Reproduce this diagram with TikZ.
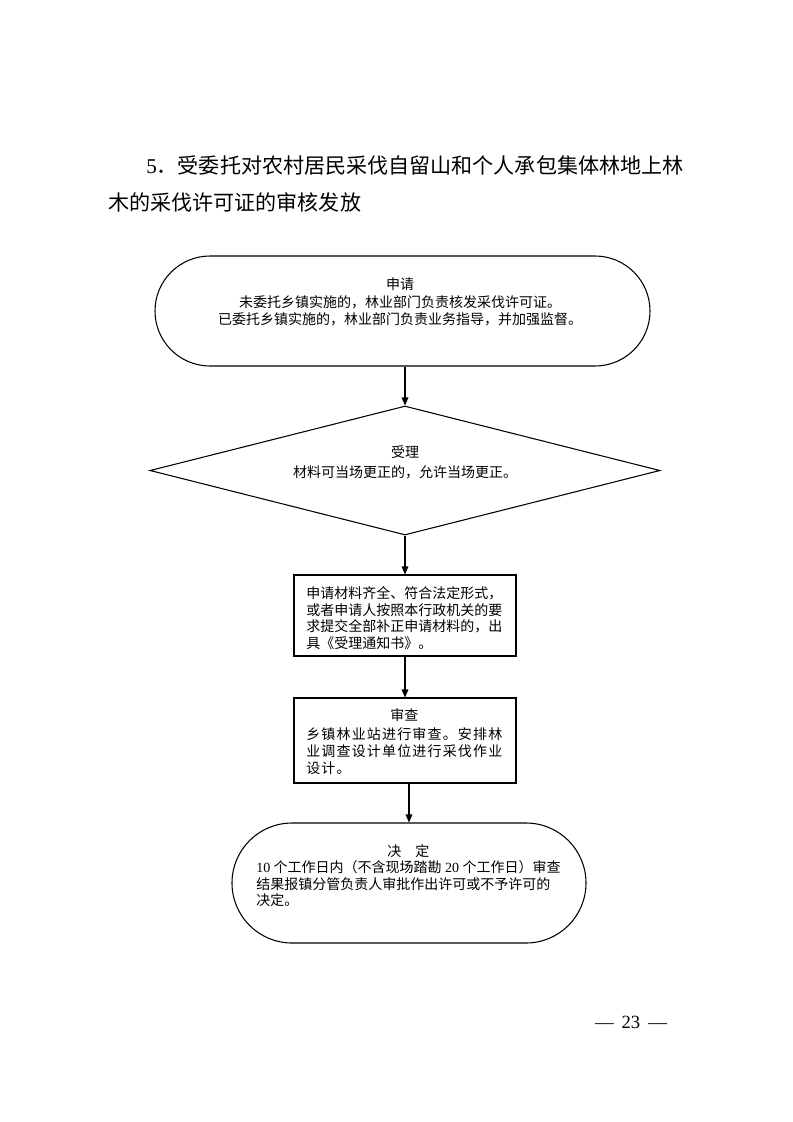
\documentclass[tikz,border=0pt]{standalone}
\usepackage{fontspec}
\setmainfont{Liberation Serif}
\newfontfamily\cjk{Noto Sans CJK SC}
\usetikzlibrary{shapes.geometric,shapes.misc,arrows.meta}
\begin{document}
\begin{tikzpicture}[x=0.75pt,y=-0.75pt,
  shp/.style={draw,line width=0.8pt,inner sep=0pt},
  arr/.style={-{Triangle[length=6pt,width=5pt]},line width=0.8pt},
  txt/.style={font=\cjk\fontsize{10.5}{13}\selectfont,inner sep=0pt},
  ttl/.style={font=\fontsize{15.8}{20}\selectfont,inner sep=0pt,anchor=west}]
\useasboundingbox (0,0) rectangle (793,1122);
\fill[white] (0,0) rectangle (793,1122);
% title
\node[ttl] (t1) at (146,165) {5{\cjk ．受委托对农村居民采伐自留山和个人承包集体林地上林}};
\node[ttl] (t2) at (108,202) {\cjk 木的采伐许可证的审核发放};
% shapes
\node[shp,rounded rectangle,minimum width=371.25pt,minimum height=82.5pt] (apply) at (402.5,311) {};
\node[txt,align=center] (applytxt) at (400,302) {申请\\未委托乡镇实施的，林业部门负责核发采伐许可证。\\已委托乡镇实施的，林业部门负责业务指导，并加强监督。};
\node[shp,diamond,minimum width=382.5pt,minimum height=96.75pt] (accept) at (405,470.5) {};
\node[txt,align=center] (accepttxt) at (405,462) {受理\\[2pt]材料可当场更正的，允许当场更正。};
\node[shp,rectangle,minimum width=166.5pt,minimum height=60.75pt] (box3) at (405,615.5) {};
\node[txt,align=left,anchor=west,font=\cjk\fontsize{10.5}{12.5}\selectfont] (box3txt) at (306,618) {申请材料齐全、符合法定形式，\\或者申请人按照本行政机关的要\\求提交全部补正申请材料的，出\\具《受理通知书》。};
\node[shp,rectangle,minimum width=166.5pt,minimum height=63.75pt] (box4) at (405,740.5) {};
\node[txt,align=left,anchor=west,font=\cjk\fontsize{10.5}{12.7}\selectfont] (box4txt) at (306,741.5) {\makebox[147pt][c]{审查}\\[2pt]\makebox[147pt][s]{乡\hfil 镇\hfil 林\hfil 业\hfil 站\hfil 进\hfil 行\hfil 审\hfil 查\hfil 。\hfil 安\hfil 排\hfil 林}\\\makebox[147pt][s]{业\hfil 调\hfil 查\hfil 设\hfil 计\hfil 单\hfil 位\hfil 进\hfil 行\hfil 采\hfil 伐\hfil 作\hfil 业}\\设\kern0.9pt 计\kern0.9pt 。};
\node[shp,rounded rectangle,minimum width=265.5pt,minimum height=90pt] (decide) at (409,883) {};
\node[txt,align=left,anchor=west,font=\cjk\fontsize{10.5}{12.4}\selectfont] (decidetxt) at (256,875.5) {\makebox[228pt][c]{决　定}\\{\rmfamily 10}\kern2.6pt 个工作日内（不含现场踏勘\kern2.6pt{\rmfamily 20}\kern2.6pt 个工作日）审查\\结果报镇分管负责人审批作出许可或不予许可的\\决定。};
% page number
\node[font=\fontsize{14}{16}\selectfont,inner sep=0pt] (pg) at (631,1022) {—\kern6pt 23\kern6pt —};
% arrows
\draw[arr] (apply.south -| accept.north) -- (accept.north);
\draw[arr] (accept.south) -- (box3.north);
\draw[arr] (box3.south) -- (box4.north);
\draw[arr] (box4.south -| decide.north) -- (decide.north);
\end{tikzpicture}
\end{document}
